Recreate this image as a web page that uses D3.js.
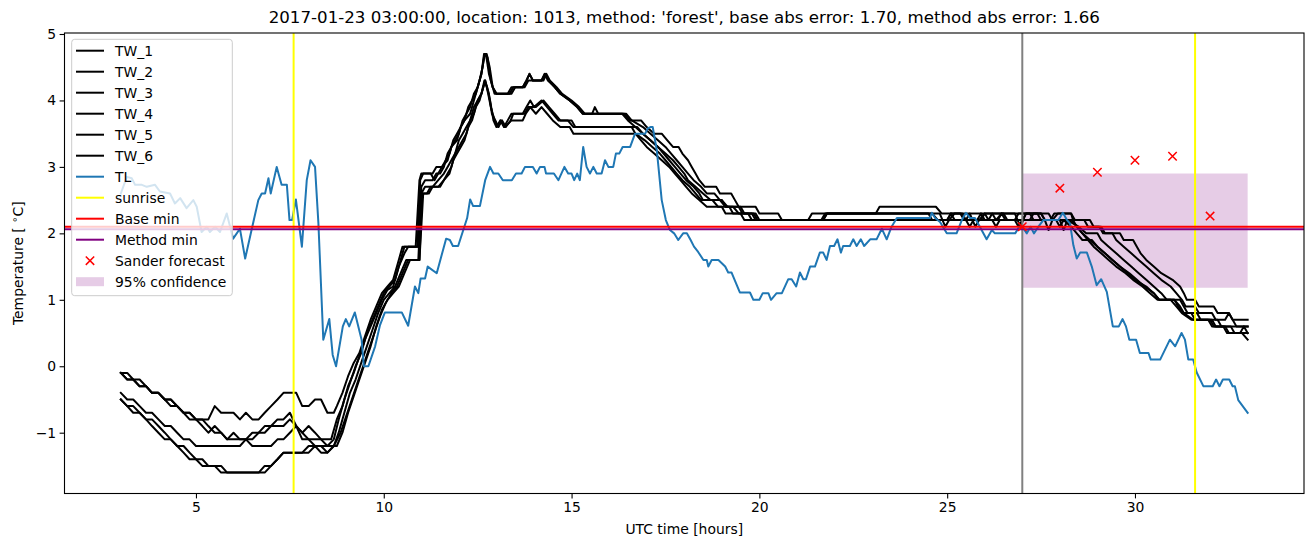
<!DOCTYPE html>
<html><head><meta charset="utf-8">
<script src="https://cdn.jsdelivr.net/npm/d3@7"></script>
<style>body{margin:0;background:#fff}svg{display:block}text{font-family:"DejaVu Sans",sans-serif}</style>
</head><body>
<svg id="c" width="1313" height="547"></svg>
<script>
// ---------------- DATA ----------------
const titleText = "2017-01-23 03:00:00, location: 1013, method: 'forest', base abs error: 1.70, method abs error: 1.66";
const xTicks = [5, 10, 15, 20, 25, 30];
const yTicks = [-1, 0, 1, 2, 3, 4, 5];
const seriesNames = ["TW_1","TW_2","TW_3","TW_4","TW_5","TW_6"];

const tw1 = [[3.0,-0.1],[3.17,-0.2],[3.33,-0.2],[3.5,-0.3],[3.67,-0.3],[3.83,-0.4],[4.0,-0.4],[4.17,-0.5],[4.33,-0.5],[4.5,-0.6],[4.67,-0.7],[4.83,-0.8],[5.33,-0.8],[5.5,-0.6],[5.67,-0.7],[6.0,-0.7],[6.17,-0.8],[6.33,-0.7],[6.5,-0.8],[6.67,-0.8],[6.83,-0.7],[7.0,-0.6],[7.17,-0.5],[7.33,-0.4],[7.67,-0.4],[7.83,-0.6],[8.0,-0.6],[8.17,-0.5],[8.33,-0.5],[8.5,-0.7],[8.67,-0.7],[8.75,-0.6],
[8.9,-0.4],[9.05,-0.15],[9.2,0.05],[9.35,0.2],[9.5,0.45],[9.65,0.7],[9.8,0.9],[9.95,1.1],[10.1,1.2],[10.25,1.3],[10.4,1.6],[10.5,1.8],[10.85,1.8],[10.95,2.8],[11.0,2.9],[11.3,2.9],[11.4,3.0],[11.55,3.0],[11.65,3.1],[11.75,3.2],[11.85,3.4],[11.95,3.5],[12.05,3.6],[12.15,3.7],[12.25,3.9],[12.35,4.0],[12.45,4.1],[12.55,4.3],[12.63,4.5],[12.68,4.7],[12.74,4.7],[12.82,4.5],[12.9,4.2],[13.0,4.1],
[13.3,4.1],[13.4,4.2],[13.7,4.2],[13.8,4.3],[13.88,4.4],[13.97,4.3],[14.2,4.3],[14.28,4.4],[14.37,4.3],[14.55,4.2],[14.7,4.1],[14.95,4.0],[15.15,3.9],[15.3,3.8],[15.55,3.8],[15.62,3.9],[15.71,3.8],[16.4,3.8],
[16.55,3.7],[16.85,3.7],[17.0,3.6],[17.2,3.5],[17.4,3.5],[17.55,3.4],[17.7,3.3],[17.85,3.3],[17.95,3.2],[18.1,3.1],[18.2,3.0],[18.3,2.9],[18.4,2.8],[18.55,2.7],[18.85,2.7],[18.95,2.6],[19.25,2.6],[19.35,2.5],[19.45,2.4],[19.9,2.4],[20.0,2.3],[20.5,2.3],[20.6,2.2],[21.3,2.2],[21.4,2.3],[23.1,2.3],[23.2,2.4],[24.7,2.4],[24.85,2.3],[25.4,2.3],[25.5,2.2],[25.6,2.3],[26.0,2.3],[26.1,2.2],[26.2,2.3],[27.7,2.3],[27.8,2.2],[27.95,2.3],[28.3,2.3],
[28.35,2.2],[28.65,2.2],[28.75,2.1],[29.05,2.1],[29.15,2.0],[29.6,2.0],[29.7,1.9],[29.95,1.9],[30.05,1.8],[30.15,1.7],[30.3,1.6],[30.5,1.5],[30.7,1.4],[31.0,1.3],[31.2,1.2],[31.3,1.1],[31.38,1.0],[31.6,1.0],[31.7,0.9],[32.1,0.9],[32.2,0.8],[32.5,0.8],[32.6,0.7],[33.0,0.7]];

const tw2 = [[3.0,-0.1],[3.17,-0.1],[3.33,-0.2],[3.5,-0.3],[3.67,-0.3],[3.83,-0.4],[4.0,-0.4],[4.17,-0.5],[4.33,-0.6],[4.5,-0.6],[4.67,-0.7],[4.83,-0.7],[5.0,-0.8],[5.17,-0.9],[5.33,-1.0],[5.5,-0.9],[5.67,-1.0],[5.83,-1.1],[6.0,-1.0],[6.17,-1.1],[6.5,-1.1],[6.67,-1.0],[6.83,-0.9],[7.0,-0.9],[7.17,-0.8],[7.33,-0.8],[7.5,-0.7],[7.67,-0.9],[7.83,-1.0],[8.0,-1.1],[8.17,-1.2],[8.5,-1.2],[8.67,-1.1],
[8.8,-0.8],[8.95,-0.5],[9.1,-0.25],[9.25,0.0],[9.4,0.2],[9.55,0.5],[9.7,0.7],[9.85,0.9],[10.0,1.1],[10.15,1.2],[10.3,1.3],[10.45,1.6],[10.55,1.8],[10.9,1.8],[10.97,2.8],[11.05,2.9],[11.25,2.9],[11.35,2.8],[11.45,2.9],[11.55,3.0],[11.7,3.1],[11.8,3.3],[11.9,3.4],[12.0,3.5],[12.1,3.7],[12.2,3.8],[12.3,3.9],[12.4,4.1],[12.5,4.2],[12.6,4.4],[12.66,4.6],[12.7,4.7],[12.76,4.65],[12.85,4.3],[12.95,4.1],[13.05,4.1],
[13.4,4.1],[13.5,4.2],[13.75,4.2],[13.85,4.3],[14.25,4.3],[14.33,4.4],[14.42,4.3],[14.6,4.2],[14.75,4.1],[15.0,4.0],[15.2,3.9],[15.35,3.8],[16.45,3.8],
[16.6,3.7],[16.9,3.6],[17.1,3.5],[17.3,3.4],[17.5,3.3],[17.65,3.2],[17.8,3.1],[17.95,3.0],[18.1,2.9],[18.25,2.8],[18.45,2.7],[18.6,2.6],[18.8,2.6],[18.95,2.5],[19.1,2.4],[19.3,2.4],[19.45,2.3],[19.9,2.3],[20.0,2.2],[21.7,2.2],[21.8,2.3],[24.8,2.3],[24.95,2.1],[25.05,2.2],[25.2,2.3],[25.6,2.3],[25.75,2.1],[25.85,2.2],[26.0,2.3],[26.2,2.3],[26.3,2.2],[26.45,2.3],[26.8,2.3],[26.95,2.1],[27.1,2.3],[27.5,2.3],[27.6,2.2],[27.75,2.2],[27.85,2.3],[28.3,2.3],
[28.4,2.2],[28.8,2.2],[28.9,2.1],[29.1,2.1],[29.2,2.0],[29.4,2.0],[29.5,1.9],[29.7,1.8],[29.9,1.7],[30.1,1.6],[30.3,1.5],[30.5,1.4],[30.7,1.3],[30.95,1.2],[31.1,1.1],[31.25,1.0],[31.35,0.9],[31.6,0.9],[31.7,0.8],[32.05,0.8],[32.15,0.7],[32.4,0.7],[32.5,0.8],[32.6,0.7],[32.7,0.6],[33.0,0.6]];

const tw3 = [[3.0,-0.1],[3.17,-0.2],[3.5,-0.2],[3.67,-0.3],[3.83,-0.4],[4.0,-0.4],[4.17,-0.5],[4.33,-0.5],[4.5,-0.6],[4.67,-0.7],[4.83,-0.7],[5.0,-0.8],[5.17,-0.8],[5.33,-0.9],[5.5,-1.0],[5.67,-1.0],[5.83,-1.1],[6.33,-1.1],[6.5,-1.0],[6.83,-1.0],[7.0,-0.9],[7.33,-0.9],[7.5,-0.8],[7.67,-0.9],[7.83,-1.0],[8.0,-0.9],[8.17,-1.0],[8.33,-1.1],[8.6,-1.1],
[8.75,-0.8],[8.9,-0.6],[9.05,-0.3],[9.2,-0.1],[9.35,0.15],[9.5,0.4],[9.65,0.6],[9.8,0.8],[9.95,1.0],[10.1,1.15],[10.25,1.2],[10.4,1.5],[10.55,1.7],[10.65,1.8],[10.9,1.8],[11.0,2.7],[11.1,2.8],[11.3,2.8],[11.4,2.9],[11.5,2.9],[11.6,3.0],[11.7,3.2],[11.8,3.3],[11.95,3.4],[12.05,3.6],[12.15,3.7],[12.3,3.8],[12.4,4.0],[12.5,4.2],[12.6,4.4],[12.67,4.7],[12.72,4.7],[12.8,4.4],[12.9,4.2],[13.0,4.1],
[13.35,4.1],[13.45,4.2],[13.7,4.2],[13.8,4.3],[13.88,4.4],[13.97,4.3],[14.2,4.3],[14.3,4.4],[14.4,4.3],[14.55,4.2],[14.7,4.1],[14.95,4.0],[15.15,3.9],[15.3,3.8],[16.35,3.8],
[16.5,3.7],[16.7,3.6],[16.9,3.5],[17.1,3.4],[17.3,3.3],[17.5,3.2],[17.7,3.1],[17.85,3.0],[18.0,2.9],[18.1,2.8],[18.3,2.7],[18.5,2.6],[18.7,2.5],[19.0,2.5],[19.15,2.4],[19.5,2.4],[19.6,2.3],[19.85,2.3],[19.95,2.2],[21.65,2.2],[21.75,2.3],[24.6,2.3],[24.75,2.2],[25.0,2.2],[25.1,2.3],[25.35,2.3],[25.45,2.2],[25.9,2.2],[26.0,2.3],[26.5,2.3],[26.6,2.2],[27.0,2.2],[27.1,2.3],[27.4,2.3],[27.5,2.2],[28.2,2.2],
[28.5,2.1],[28.7,2.0],[29.0,2.0],[29.1,1.9],[29.3,1.8],[29.5,1.7],[29.7,1.6],[29.9,1.5],[30.1,1.4],[30.3,1.3],[30.5,1.2],[30.7,1.1],[30.85,1.0],[31.2,1.0],[31.3,0.9],[31.4,0.8],[31.65,0.8],[31.75,0.7],[32.2,0.7],[32.3,0.6],[33.0,0.6]];

const tw4 = [[3.0,-0.4],[3.17,-0.5],[3.33,-0.5],[3.5,-0.6],[3.67,-0.7],[3.83,-0.7],[4.0,-0.8],[4.17,-0.9],[4.33,-0.9],[4.5,-1.0],[4.67,-1.1],[4.83,-1.1],[5.0,-1.2],[6.17,-1.2],[6.33,-1.1],[6.5,-1.2],[7.0,-1.2],[7.17,-1.1],[7.33,-1.1],[7.5,-1.0],[7.67,-0.9],[7.83,-1.1],[8.33,-1.1],[8.5,-1.2],[8.67,-1.2],
[8.8,-1.0],[8.95,-0.7],[9.1,-0.4],[9.25,-0.2],[9.4,0.05],[9.55,0.3],[9.7,0.55],[9.85,0.8],[10.0,1.0],[10.15,1.1],[10.3,1.2],[10.45,1.4],[10.6,1.6],[10.92,1.6],[11.0,2.6],[11.1,2.7],[11.3,2.7],[11.45,2.8],[11.6,2.9],[11.7,3.0],[11.8,3.1],[11.9,3.2],[12.0,3.4],[12.1,3.5],[12.2,3.6],[12.3,3.7],[12.4,3.9],[12.5,4.0],[12.6,4.1],[12.68,4.3],[12.75,4.2],[12.83,4.0],[12.92,3.7],[13.0,3.6],
[13.1,3.7],[13.2,3.6],[13.3,3.7],[13.4,3.8],[13.7,3.8],[13.8,3.9],[13.9,4.0],[14.0,3.9],[14.2,4.0],[14.35,3.9],[14.5,3.8],[14.65,3.7],[15.0,3.7],[15.1,3.6],[16.5,3.6],
[16.75,3.6],[16.9,3.5],[17.1,3.4],[17.3,3.3],[17.45,3.2],[17.6,3.1],[17.75,3.0],[17.9,2.9],[18.05,2.8],[18.25,2.7],[18.4,2.6],[18.5,2.5],[19.0,2.5],[19.1,2.4],[19.45,2.4],[19.55,2.3],[19.8,2.3],[19.9,2.2],[21.7,2.2],[21.8,2.3],[24.5,2.3],[24.6,2.2],[26.8,2.2],[26.9,2.3],[27.2,2.3],[27.3,2.2],[27.6,2.2],[27.7,2.05],[27.8,2.2],[28.3,2.2],
[28.45,2.1],[28.6,2.0],[28.8,1.9],[29.0,1.8],[29.2,1.7],[29.4,1.6],[29.6,1.5],[29.85,1.4],[30.05,1.3],[30.25,1.2],[30.5,1.1],[30.65,1.0],[31.05,1.0],[31.2,0.9],[31.3,0.8],[31.5,0.8],[31.6,0.7],[32.0,0.7],[32.1,0.6],[32.4,0.6],[32.5,0.5],[33.0,0.5]];

const tw5 = [[3.0,-0.5],[3.17,-0.6],[3.33,-0.7],[3.5,-0.7],[3.67,-0.8],[3.83,-0.9],[4.0,-1.0],[4.17,-1.1],[4.33,-1.1],[4.5,-1.2],[4.67,-1.3],[4.83,-1.4],[5.0,-1.4],[5.17,-1.5],[5.5,-1.5],[5.67,-1.6],[6.83,-1.6],[7.0,-1.5],[7.17,-1.4],[7.33,-1.3],[8.0,-1.3],[8.17,-1.2],[8.33,-1.3],[8.5,-1.3],[8.67,-1.2],
[8.85,-1.0],[9.0,-0.75],[9.15,-0.5],[9.3,-0.25],[9.45,0.0],[9.6,0.25],[9.75,0.5],[9.9,0.75],[10.05,0.95],[10.2,1.1],[10.35,1.2],[10.5,1.4],[10.65,1.6],[10.95,1.6],[11.02,2.6],[11.15,2.6],[11.25,2.7],[11.45,2.7],[11.6,2.8],[11.7,2.9],[11.8,3.0],[11.9,3.2],[12.0,3.3],[12.1,3.4],[12.2,3.5],[12.3,3.7],[12.4,3.8],[12.5,4.0],[12.6,4.1],[12.7,4.3],[12.78,4.1],[12.85,3.9],[12.95,3.7],[13.05,3.6],
[13.15,3.7],[13.25,3.6],[13.38,3.7],[13.45,3.8],[13.75,3.8],[13.85,3.9],[14.05,3.9],[14.25,4.0],[14.4,3.9],[14.55,3.8],[14.7,3.7],[14.9,3.7],[15.05,3.6],[16.6,3.6],
[16.7,3.5],[16.95,3.4],[17.15,3.3],[17.35,3.2],[17.5,3.1],[17.65,3.0],[17.8,2.9],[17.95,2.8],[18.15,2.7],[18.3,2.6],[18.45,2.5],[18.75,2.5],[18.9,2.4],[19.2,2.4],[19.3,2.3],[19.7,2.3],[19.8,2.2],[25.0,2.2],[25.1,2.3],[25.2,2.2],[25.8,2.2],[25.9,2.3],[26.0,2.2],[26.35,2.2],[26.45,2.3],[26.55,2.2],[27.2,2.2],[27.3,2.3],[27.5,2.3],[27.6,2.2],[28.0,2.2],[28.1,2.05],[28.2,2.2],[28.35,2.2],
[28.45,2.1],[28.6,2.0],[28.75,1.9],[28.9,1.8],[29.1,1.7],[29.3,1.6],[29.5,1.5],[29.75,1.4],[29.95,1.3],[30.2,1.2],[30.4,1.1],[30.6,1.0],[31.05,1.0],[31.15,0.9],[31.3,0.8],[31.55,0.7],[31.95,0.7],[32.05,0.6],[32.35,0.6],[32.45,0.5],[32.85,0.5],[33.0,0.4]];

const tw6 = [[3.0,-0.5],[3.17,-0.6],[3.33,-0.6],[3.5,-0.7],[3.67,-0.8],[3.83,-0.8],[4.0,-0.9],[4.17,-1.0],[4.33,-1.1],[4.5,-1.2],[4.67,-1.2],[4.83,-1.3],[5.0,-1.4],[5.17,-1.4],[5.33,-1.5],[5.67,-1.5],[5.83,-1.6],[6.67,-1.6],[6.83,-1.5],[7.0,-1.5],[7.17,-1.4],[7.33,-1.3],[7.83,-1.3],[8.0,-1.2],[8.33,-1.2],[8.5,-1.3],[8.67,-1.2],[8.75,-1.2],
[8.9,-1.0],[9.05,-0.7],[9.2,-0.45],[9.35,-0.2],[9.5,0.05],[9.65,0.3],[9.8,0.6],[9.95,0.85],[10.1,1.0],[10.25,1.1],[10.4,1.2],[10.55,1.4],[10.7,1.6],[10.95,1.6],[11.05,2.6],[11.2,2.6],[11.3,2.7],[11.5,2.7],[11.6,2.8],[11.75,2.9],[11.85,3.1],[11.95,3.2],[12.05,3.3],[12.15,3.4],[12.25,3.6],[12.35,3.7],[12.45,3.9],[12.55,4.0],[12.65,4.2],[12.7,4.3],[12.8,4.1],[12.88,3.8],[12.97,3.7],[13.05,3.6],
[13.12,3.7],[13.22,3.6],[13.4,3.7],[13.7,3.7],[13.78,3.8],[13.9,3.9],[14.05,3.8],[14.2,3.9],[14.35,3.8],[14.5,3.7],[14.7,3.6],[14.95,3.6],[15.05,3.5],[16.5,3.5],
[16.7,3.5],[16.85,3.4],[17.0,3.3],[17.2,3.2],[17.4,3.1],[17.6,3.0],[17.75,2.9],[17.9,2.8],[18.05,2.7],[18.2,2.6],[18.4,2.5],[18.6,2.4],[19.0,2.4],[19.1,2.3],[19.5,2.3],[19.6,2.2],[25.5,2.2],[25.6,2.1],[25.7,2.2],[26.2,2.2],[26.3,2.1],[26.4,2.2],[26.8,2.2],[26.9,2.1],[27.0,2.2],[27.9,2.2],[28.0,2.1],[28.1,2.2],[28.3,2.1],
[28.45,2.0],[28.6,1.9],[28.85,1.9],[29.0,1.8],[29.2,1.7],[29.4,1.6],[29.6,1.5],[29.8,1.4],[30.0,1.3],[30.3,1.2],[30.5,1.1],[30.65,1.0],[30.95,1.0],[31.1,0.9],[31.25,0.8],[31.5,0.7],[32.05,0.7],[32.15,0.6],[32.55,0.6],[32.65,0.5],[32.8,0.5],[32.9,0.6],[33.0,0.5]];

const tl = [[3.0,2.6],[3.16,2.85],[3.29,2.83],[3.38,2.73],[3.56,2.73],[3.69,2.7],[3.91,2.73],[4.04,2.63],[4.31,2.6],[4.44,2.45],[4.58,2.53],[4.75,2.38],[4.93,2.5],[5.02,2.4],[5.15,2.02],[5.29,2.1],[5.37,2.02],[5.51,2.1],[5.64,2.02],[5.82,2.3],[5.99,1.92],[6.17,2.07],[6.31,1.62],[6.48,2.05],[6.66,2.5],[6.75,2.6],[6.84,2.6],[6.93,2.83],[6.99,2.6],[7.15,3.0],[7.28,2.73],[7.42,2.73],[7.49,2.2],[7.56,2.2],[7.66,2.51],[7.82,1.8],[7.95,2.8],[8.05,3.1],[8.17,3.0],[8.26,2.15],[8.39,0.4],[8.55,0.71],[8.64,0.17],[8.73,0.0],[8.91,0.6],[8.99,0.71],[9.08,0.6],[9.23,0.81],[9.41,0.4],[9.47,0.0],[9.59,0.0],[9.77,0.3],[9.9,0.62],[10.03,0.81],[10.48,0.81],[10.65,0.61],[10.83,1.2],[10.92,1.1],[10.98,1.32],[11.1,1.32],[11.17,1.5],[11.41,1.4],[11.66,1.92],[11.76,1.9],[11.84,1.81],[11.98,1.81],[12.22,2.23],[12.3,2.51],[12.38,2.41],[12.56,2.41],[12.7,2.8],[12.83,3.0],[12.92,2.9],[13.05,2.9],[13.17,2.8],[13.41,2.8],[13.52,2.9],[13.67,2.9],[13.76,3.0],[13.97,3.0],[14.07,2.9],[14.16,3.0],[14.28,3.0],[14.32,2.9],[14.53,2.9],[14.65,2.8],[14.81,3.0],[14.91,2.9],[15.0,2.9],[15.07,2.8],[15.15,2.9],[15.22,2.8],[15.31,3.3],[15.4,3.0],[15.49,2.9],[15.58,3.0],[15.67,2.9],[15.8,2.9],[15.89,3.1],[15.98,3.0],[16.11,3.0],[16.18,3.2],[16.27,3.2],[16.36,3.3],[16.56,3.3],[16.69,3.5],[16.96,3.5],[17.03,3.58],[17.11,3.6],[17.16,3.6],[17.27,3.25],[17.4,2.5],[17.51,2.2],[17.62,2.05],[17.73,2.0],[17.84,1.9],[17.97,2.0],[18.07,2.0],[18.17,1.9],[18.26,1.8],[18.37,1.72],[18.51,1.6],[18.6,1.6],[18.64,1.5],[18.73,1.6],[18.91,1.6],[19.09,1.5],[19.17,1.41],[19.26,1.41],[19.48,1.11],[19.75,1.11],[19.84,1.0],[20.0,1.0],[20.09,1.1],[20.24,1.1],[20.31,1.0],[20.46,1.1],[20.6,1.1],[20.77,1.31],[20.86,1.31],[20.98,1.2],[21.08,1.41],[21.17,1.31],[21.24,1.31],[21.35,1.5],[21.48,1.5],[21.61,1.71],[21.7,1.71],[21.79,1.6],[21.88,1.81],[21.99,1.81],[22.08,1.91],[22.17,1.71],[22.23,1.81],[22.41,1.81],[22.5,1.91],[22.59,1.81],[22.7,1.91],[22.79,1.81],[22.95,1.91],[23.12,1.91],[23.26,2.07],[23.39,1.91],[23.52,2.1],[23.66,2.23],[24.54,2.23],[24.59,2.31],[24.68,2.23],[24.81,2.17],[24.99,2.0],[25.25,2.0],[25.39,2.2],[25.5,2.31],[25.61,2.23],[25.74,2.23],[25.87,2.1],[26.05,1.91],[26.19,2.05],[26.27,2.0],[26.81,2.0],[26.92,2.1],[27.0,2.1],[27.12,2.0],[27.22,2.1],[27.31,2.0],[27.43,2.1],[27.56,2.2],[27.96,2.2],[28.08,2.31],[28.19,2.2],[28.27,2.15],[28.36,1.82],[28.45,1.62],[28.54,1.71],[28.72,1.71],[28.85,1.5],[28.98,1.22],[29.1,1.31],[29.25,1.12],[29.41,0.6],[29.57,0.6],[29.67,0.71],[29.76,0.6],[29.85,0.4],[30.03,0.4],[30.13,0.2],[30.36,0.2],[30.42,0.1],[30.67,0.1],[30.93,0.4],[31.07,0.3],[31.24,0.5],[31.33,0.4],[31.42,0.1],[31.55,0.1],[31.64,-0.09],[31.82,-0.3],[32.07,-0.3],[32.16,-0.2],[32.25,-0.3],[32.34,-0.2],[32.51,-0.2],[32.6,-0.3],[32.66,-0.3],[32.75,-0.51],[33.0,-0.7]];

const sunriseTimes = [7.6, 31.6];
const forecastStart = [27];
const baseMin = [2.1];
const methodMin = [2.06];
const sanderT = [27, 28, 29, 30, 31, 32];
const sanderV = [2.1, 2.68, 2.92, 3.1, 3.16, 2.26];
const confT = [27, 33];
const confLo = [1.18, 1.18];
const confHi = [2.9, 2.9];

// ---------------- CHART ----------------
const svg = d3.select("#c");
const L = 64.5, R = 1304, T = 33, B = 493.5;
const allTW = [tw1, tw2, tw3, tw4, tw5, tw6];
const allPts = allTW.flat().concat(tl);
const xe = d3.extent(allPts, d => d[0]);
const ye = d3.extent(allPts, d => d[1]);
const xm = (xe[1] - xe[0]) * 0.05, ym = (ye[1] - ye[0]) * 0.05;
const x = d3.scaleLinear().domain([xe[0] - xm, xe[1] + xm]).range([L, R]);
const y = d3.scaleLinear().domain([ye[0] - ym, ye[1] + ym]).range([B, T]);

svg.append("rect").attr("width", 1313).attr("height", 547).attr("fill", "#fff");
svg.append("defs").append("clipPath").attr("id", "clip")
  .append("rect").attr("x", L).attr("y", T).attr("width", R - L).attr("height", B - T);
const g = svg.append("g").attr("clip-path", "url(#clip)");

// confidence band
const area = d3.area().x((d, i) => x(confT[i])).y0((d, i) => y(confLo[i])).y1((d, i) => y(confHi[i]));
g.append("path").datum(confT).attr("d", area).attr("fill", "purple").attr("fill-opacity", 0.2);

const line = d3.line().x(d => x(d[0])).y(d => y(d[1]));
allTW.forEach(s => {
  g.append("path").datum(s).attr("d", line).attr("fill", "none").attr("stroke", "#000")
    .attr("stroke-width", 2).attr("stroke-linejoin", "round").attr("stroke-linecap", "square");
});
g.append("path").datum(tl).attr("d", line).attr("fill", "none").attr("stroke", "#1f77b4")
  .attr("stroke-width", 2).attr("stroke-linejoin", "round").attr("stroke-linecap", "square");

sunriseTimes.forEach(t => {
  g.append("line").attr("x1", x(t)).attr("x2", x(t)).attr("y1", T).attr("y2", B)
    .attr("stroke", "yellow").attr("stroke-width", 2);
});
forecastStart.forEach(t => {
  g.append("line").attr("x1", x(t)).attr("x2", x(t)).attr("y1", T).attr("y2", B)
    .attr("stroke", "gray").attr("stroke-width", 2);
});
baseMin.forEach(v => {
  g.append("line").attr("x1", L).attr("x2", R).attr("y1", y(v)).attr("y2", y(v))
    .attr("stroke", "red").attr("stroke-width", 2);
});
methodMin.forEach(v => {
  g.append("line").attr("x1", L).attr("x2", R).attr("y1", y(v)).attr("y2", y(v))
    .attr("stroke", "purple").attr("stroke-width", 2);
});
const ms = 4.2;
sanderT.forEach((t, i) => {
  const cx = x(t), cy = y(sanderV[i]);
  g.append("path").attr("d", `M${cx-ms},${cy-ms}L${cx+ms},${cy+ms}M${cx-ms},${cy+ms}L${cx+ms},${cy-ms}`)
    .attr("stroke", "red").attr("stroke-width", 1.5).attr("fill", "none");
});

// axes
const fs = 13.9;
const minus = v => (v < 0 ? "\u2212" + Math.abs(v) : "" + v);
const xa = svg.append("g").attr("transform", `translate(0,${B})`)
  .call(d3.axisBottom(x).tickValues(xTicks).tickSize(4.9).tickPadding(3.5).tickFormat(minus));
const ya = svg.append("g").attr("transform", `translate(${L},0)`)
  .call(d3.axisLeft(y).tickValues(yTicks).tickSize(4.9).tickPadding(3.5).tickFormat(minus));
[xa, ya].forEach(a => {
  a.select(".domain").remove();
  a.selectAll("line").attr("stroke", "#000").attr("stroke-width", 1.1);
  a.selectAll("text").attr("font-size", fs).attr("fill", "#000").attr("font-family", "DejaVu Sans");
});
// spines
svg.append("rect").attr("x", L).attr("y", T).attr("width", R - L).attr("height", B - T)
  .attr("fill", "none").attr("stroke", "#000").attr("stroke-width", 1.1);

svg.append("text").attr("x", (L + R) / 2).attr("y", 23).attr("text-anchor", "middle")
  .attr("font-size", 16.67).text(titleText);
svg.append("text").attr("x", (L + R) / 2).attr("y", 534).attr("text-anchor", "middle")
  .attr("font-size", fs).text("UTC time [hours]");
const yl = svg.append("text").attr("transform", `translate(23,${(T + B) / 2}) rotate(-90)`)
  .attr("text-anchor", "middle").attr("font-size", fs);
yl.append("tspan").text("Temperature [ ");
yl.append("tspan").attr("font-size", 10).attr("dy", -5).text("\u2218");
yl.append("tspan").attr("dy", 5).text("C]");

// legend
const lg = svg.append("g");
const lx = 71.7, ly = 39.3, lw = 160.6, lh = 256.4;
lg.append("rect").attr("x", lx).attr("y", ly).attr("width", lw).attr("height", lh).attr("rx", 3)
  .attr("fill", "#fff").attr("fill-opacity", 0.8).attr("stroke", "#cccccc").attr("stroke-width", 1);
const items = seriesNames.map(n => ({label: n, type: "line", color: "#000"})).concat([
  {label: "TL", type: "line", color: "#1f77b4"},
  {label: "sunrise", type: "line", color: "yellow"},
  {label: "Base min", type: "line", color: "red"},
  {label: "Method min", type: "line", color: "purple"},
  {label: "Sander forecast", type: "marker", color: "red"},
  {label: "95% confidence", type: "patch", color: "purple"}
]);
const hx0 = 76, hx1 = 104, tx = 115, row0 = 50.7, step = 21.0;
items.forEach((it, i) => {
  const cy = row0 + i * step;
  if (it.type === "line") {
    lg.append("line").attr("x1", hx0).attr("x2", hx1).attr("y1", cy).attr("y2", cy)
      .attr("stroke", it.color).attr("stroke-width", 2);
  } else if (it.type === "marker") {
    const cx = (hx0 + hx1) / 2;
    lg.append("path").attr("d", `M${cx-ms},${cy-ms}L${cx+ms},${cy+ms}M${cx-ms},${cy+ms}L${cx+ms},${cy-ms}`)
      .attr("stroke", it.color).attr("stroke-width", 1.5);
  } else {
    lg.append("rect").attr("x", hx0).attr("y", cy - 4.5).attr("width", hx1 - hx0).attr("height", 9)
      .attr("fill", it.color).attr("fill-opacity", 0.2);
  }
  lg.append("text").attr("x", tx).attr("y", cy + 5).attr("font-size", fs).text(it.label);
});
</script>
</body></html>
